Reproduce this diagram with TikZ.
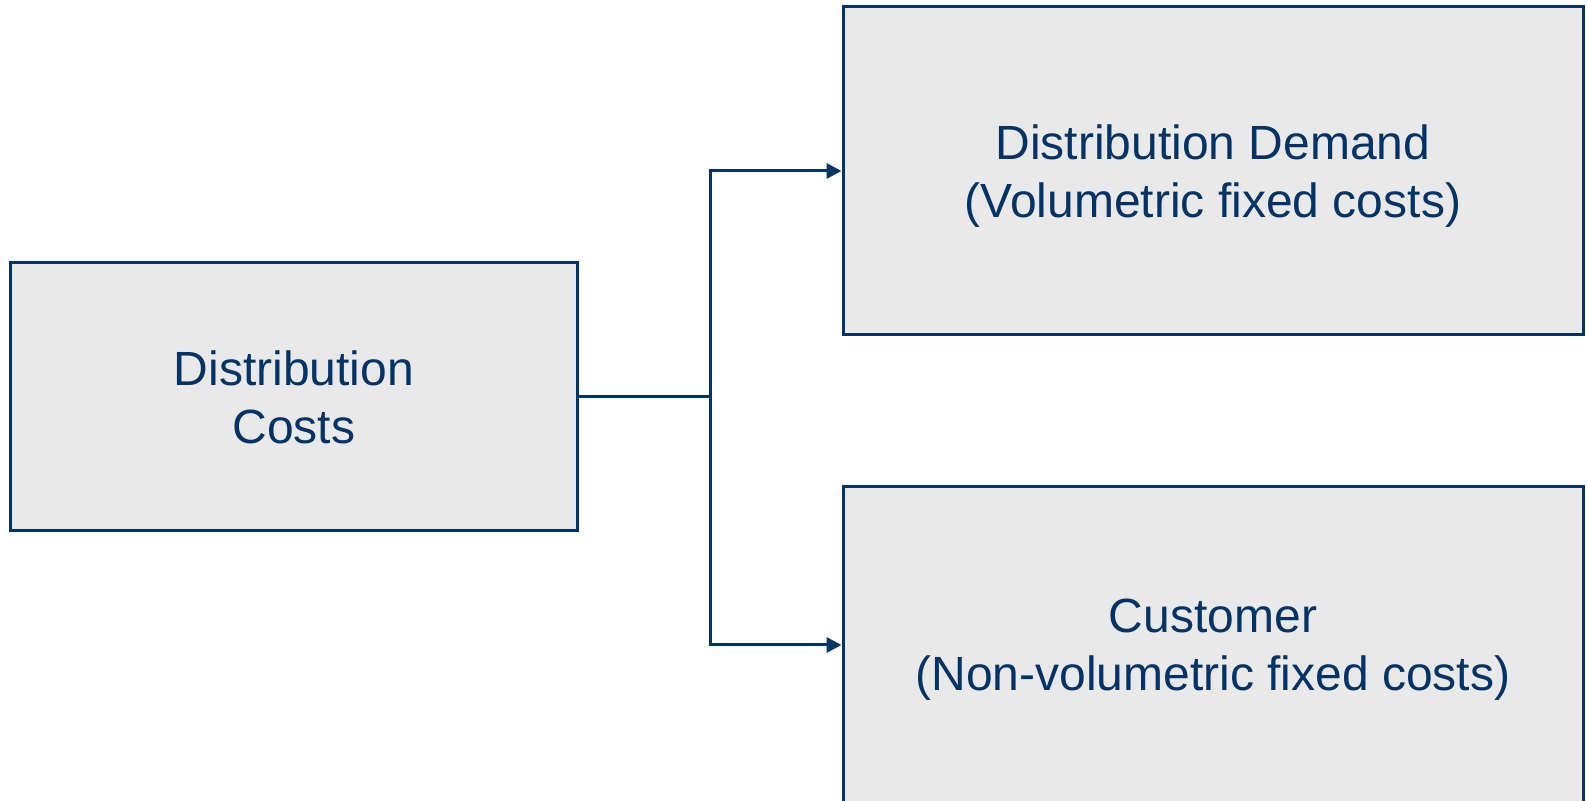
\documentclass[tikz,border=0pt]{standalone}
\usepackage{fontspec}
\setmainfont{Liberation Sans}
\usepackage{tikz}
\usetikzlibrary{arrows.meta}
\usetikzlibrary{positioning}
\definecolor{navy}{RGB}{0,51,102}
\definecolor{boxgray}{RGB}{233,233,233}

\begin{document}
\begin{tikzpicture}[x=0.5pt, y=-0.5pt, >={Triangle[length=7.5pt,width=7.5pt]}, auto]

    \tikzstyle{costbox}=[draw=navy, fill=boxgray, line width=1.5pt, text=navy, align=center,
      font=\fontsize{24}{29}\selectfont, inner sep=0pt];
    \tikzstyle{typebox}=[costbox, minimum width=370pt, text depth=-0.5pt];

    \useasboundingbox (0,0) rectangle (1587,801);

    \node [costbox, minimum width=283.75pt, minimum height=134pt](costs) at (294, 397){Distribution\\Costs};
    \node [typebox, minimum height=164pt](demand) at (1213, 171){Distribution Demand\\(Volumetric fixed costs)};
    \node [typebox, minimum height=158pt](customer) at (1213, 645){Customer\\(Non-volumetric fixed costs)};

    \coordinate (split) at (710, 397);

    \draw [navy, line width=1.5pt] (costs.east) -- (split);
    \draw [navy, line width=1.5pt, ->] (split) |- (demand.west);
    \draw [navy, line width=1.5pt, ->] (split) |- (customer.west);

\end{tikzpicture}
\end{document}
